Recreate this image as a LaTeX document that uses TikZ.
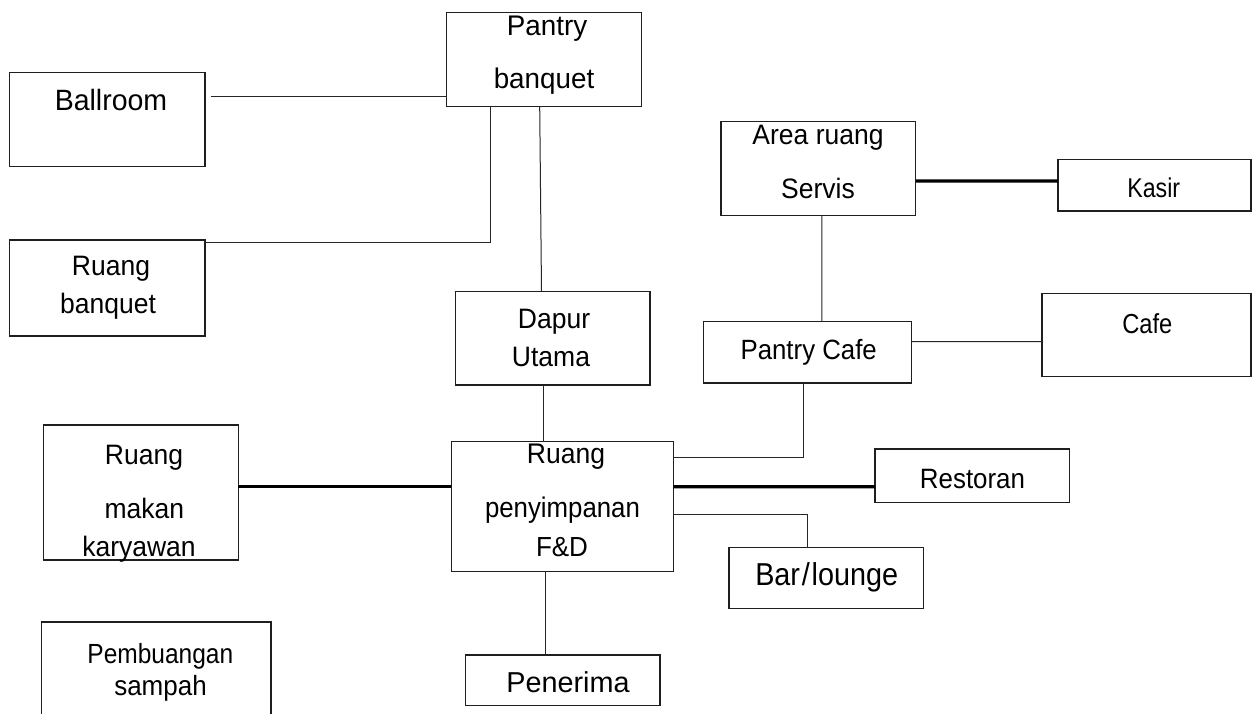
\documentclass[tikz,border=0pt]{standalone}
\usepackage{fontspec}
\usepackage{graphicx}
\setmainfont{Liberation Sans}
\usetikzlibrary{calc}
\tikzset{
  box/.style={draw=black!88, line width=1.3pt, inner sep=0pt, outer sep=0pt},
  thinline/.style={draw=black!85, line width=1pt},
  thickline/.style={draw=black, line width=3.3pt},
  lbl/.style={anchor=base, inner sep=0pt, outer sep=0pt}
}
% #1 font size (width), #2 vertical stretch, #3 text
\newcommand{\tx}[3]{\scalebox{1}[#2]{\fontsize{#1}{#1}\selectfont #3}}
\newcommand{\mkbox}[5]{%
  \pgfmathsetmacro{\bw}{#4-#2}\pgfmathsetmacro{\bh}{#5-#3}%
  \node[box, minimum width=\bw pt, minimum height=\bh pt] (#1) at ({(#2+#4)/2},{(#3+#5)/2}) {};}
\begin{document}
\begin{tikzpicture}[x=1pt,y=-1pt]
\useasboundingbox (0,0) rectangle (1252,713);
\fill[white] (0,0) rectangle (1252,713);
\clip (0,0) rectangle (1252,713);
% boxes
\mkbox{pb}{446.7}{12.3}{641.3}{106.7}
\mkbox{ball}{9.8}{72.7}{205}{166.7}
\mkbox{rb}{9.8}{240}{205}{336}
\mkbox{dap}{455.8}{291.7}{650}{385}
\mkbox{fd}{451.3}{441.7}{673.3}{571.7}
\mkbox{rmk}{43.3}{425}{238.4}{560}
\mkbox{pem}{41.5}{622}{271}{760}
\mkbox{pen}{465.6}{655}{660}{705.3}
\mkbox{srv}{721}{121.3}{915.8}{215.3}
\mkbox{kas}{1058}{159.3}{1251}{211}
\mkbox{cafe}{1042}{293.3}{1251}{376.7}
\mkbox{pc}{703.2}{321.3}{911.7}{383}
\mkbox{res}{875}{449}{1069.7}{502.3}
\mkbox{bar}{729}{547.7}{923.4}{608.3}
% labels
\node[lbl] (tpb1) at (547,35) {\tx{27.8}{1.02}{Pantry}};
\node[lbl] (tpb2) at (544,88.3) {\tx{27.8}{1.02}{banquet}};
\node[lbl] (tball) at (111,110.7) {\tx{28.5}{1.03}{Ballroom}};
\node[lbl] (trb1) at (111,275) {\tx{26.5}{1.06}{Ruang}};
\node[lbl] (trb2) at (108,313.3) {\tx{26.5}{1.06}{banquet}};
\node[lbl] (tdap1) at (554,328.3) {\tx{26.5}{1.06}{Dapur}};
\node[lbl] (tdap2) at (551,366.7) {\tx{26.5}{1.06}{Utama}};
\node[lbl] (tfd1) at (566,463) {\tx{26.5}{1.07}{Ruang}};
\node[lbl] (tfd2) at (562.5,517) {\tx{25.8}{1.1}{penyimpanan}};
\node[lbl] (tfd3) at (562,556.7) {\tx{26}{1.06}{F\&D}};
\node[lbl] (trmk1) at (144,464) {\tx{26.5}{1.06}{Ruang}};
\node[lbl] (trmk2) at (144.4,518.3) {\tx{26.5}{1.06}{makan}};
\node[lbl] (trmk3) at (139,556.7) {\tx{26.5}{1.06}{karyawan}};
\node[lbl] (tpem1) at (160.3,663.3) {\tx{24.5}{1.13}{Pembuangan}};
\node[lbl] (tpem2) at (160.5,695) {\tx{26}{1.07}{sampah}};
\node[lbl] (tpen) at (568,692.7) {\tx{28.8}{1.0}{Penerima}};
\node[lbl] (tsrv1) at (818,144) {\tx{26.5}{1.06}{Area ruang}};
\node[lbl] (tsrv2) at (818,198.3) {\tx{26.5}{1.06}{Servis}};
\node[lbl] (tkas) at (1153.7,197.7) {\tx{23.2}{1.17}{Kasir}};
\node[lbl] (tcafe) at (1147.3,333.3) {\tx{23.7}{1.16}{Cafe}};
\node[lbl] (tpc) at (808.7,359.3) {\tx{25.8}{1.08}{Pantry Cafe}};
\node[lbl] (tres) at (972.5,488.3) {\tx{25.9}{1.08}{Restoran}};
\node[lbl] (tbar) at (826.7,585.7) {\tx{28.8}{1.1}{Bar\kern1.8pt/\kern1.8pt lounge}};
% connectors
\coordinate (c1) at (210.7,96.7);
\draw[thinline] (c1) -- (c1 -| pb.west);
\draw[thinline] ([yshift=-2.7pt]rb.north east) -| ([xshift=43.6pt]pb.south west);
\draw[thinline] ([xshift=93pt]pb.south west) -- ([xshift=85.7pt]dap.north west);
\draw[thinline] ([xshift=87.5pt]dap.south west) -- ([xshift=92pt]fd.north west);
\draw[thickline] ([yshift=5.8pt]rmk.east) -- ([yshift=20pt]fd.west);
\draw[thinline] ([xshift=93.7pt]fd.south west) -- ([xshift=79.4pt]pen.north west);
\draw[thickline] ([yshift=-12.7pt]srv.east) -- ([yshift=4.2pt]kas.west);
\draw[thinline] ([xshift=3.4pt]srv.south) -- ([xshift=118.6pt]pc.north west);
\draw[thinline] ([yshift=10.5pt]pc.east) -- ([yshift=-6.7pt]cafe.west);
\draw[thinline] ([xshift=-4.45pt]pc.south) |- ([yshift=-16pt]fd.north east);
\draw[thickline] ([yshift=20pt]fd.east) -- ([yshift=-11pt]res.west);
\draw[thinline] ([yshift=-7.3pt]fd.east) -| ([xshift=-18.5pt]bar.north);
\end{tikzpicture}
\end{document}
